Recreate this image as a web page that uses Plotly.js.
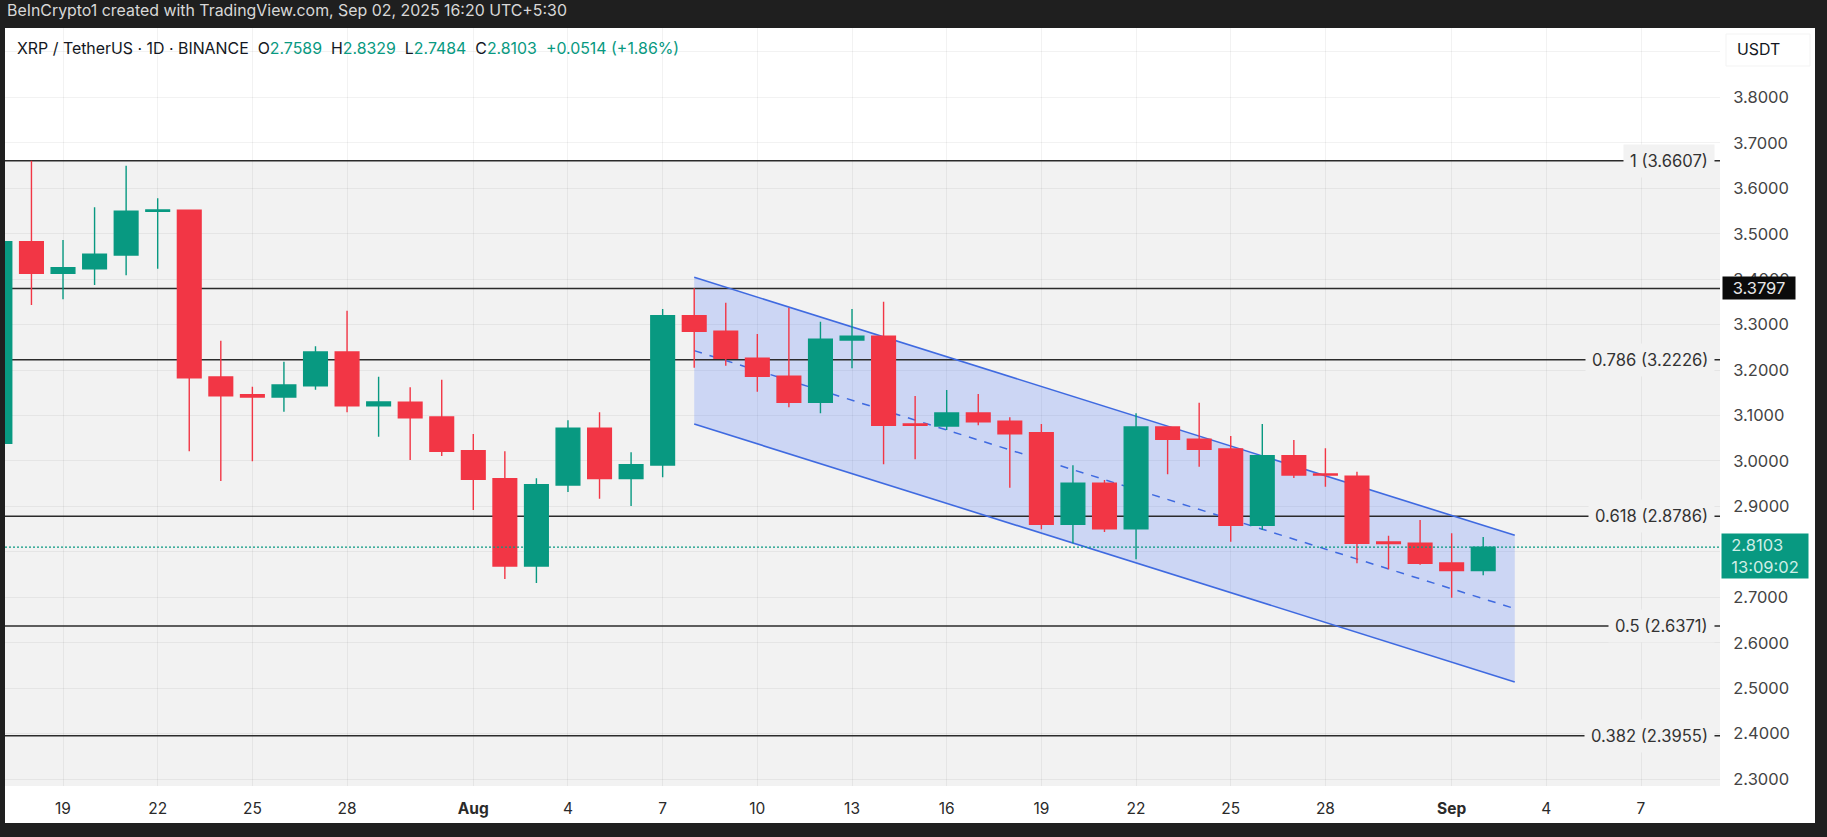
<!DOCTYPE html>
<html><head><meta charset="utf-8">
<script src="https://cdn.plot.ly/plotly-3.0.1.min.js"></script>
<style>html,body{margin:0;padding:0;background:#1f1f1f;overflow:hidden}</style>
</head><body><div id="chart" style="width:1827px;height:837px"></div>
<script>
const dates=['2025-07-17','2025-07-18','2025-07-19','2025-07-20','2025-07-21','2025-07-22','2025-07-23','2025-07-24','2025-07-25','2025-07-26','2025-07-27','2025-07-28','2025-07-29','2025-07-30','2025-07-31',
'2025-08-01','2025-08-02','2025-08-03','2025-08-04','2025-08-05','2025-08-06','2025-08-07','2025-08-08','2025-08-09','2025-08-10','2025-08-11','2025-08-12','2025-08-13','2025-08-14','2025-08-15','2025-08-16','2025-08-17','2025-08-18','2025-08-19','2025-08-20','2025-08-21','2025-08-22','2025-08-23','2025-08-24','2025-08-25','2025-08-26','2025-08-27','2025-08-28','2025-08-29','2025-08-30','2025-08-31','2025-09-01','2025-09-02'];
const opens=[3.0389,3.4825,3.4130,3.4231,3.4532,3.5494,3.5516,3.1848,3.1459,3.1408,3.1657,3.2398,3.1217,3.1292,3.0968,3.0227,2.9611,2.7690,2.9472,3.0719,2.9611,2.9912,3.3197,3.2854,3.2260,3.1864,3.1292,3.2662,3.2744,3.0814,3.0770,3.1056,3.0873,3.0623,2.8607,2.9509,2.8510,3.0748,3.0477,3.0264,2.8585,3.0117,2.9714,2.9663,2.8218,2.8189,2.7756,2.7589];
const highs=[3.50,3.6607,3.4862,3.5582,3.6497,3.5780,3.5535,3.2647,3.1635,3.2185,3.2524,3.3307,3.1855,3.1622,3.1789,3.0594,3.0213,2.9619,3.0895,3.1071,3.0191,3.3344,3.3800,3.3483,3.2794,3.3373,3.3065,3.3344,3.3505,3.1430,3.1562,3.1474,3.0961,3.0814,2.9905,2.9582,3.1049,3.0760,3.1283,3.0550,3.0814,3.0462,3.0279,2.9765,2.8356,2.8702,2.8409,2.8329];
const lows=[3.02,3.3432,3.3558,3.3872,3.4086,3.4231,3.0213,2.9560,2.9993,3.1085,3.1569,3.1071,3.0535,3.0022,3.0110,2.8922,2.7404,2.7316,2.9318,2.9171,2.9010,2.9641,3.2053,3.2097,3.1525,3.1182,3.1049,3.2040,2.9927,3.0037,3.0682,3.0785,2.9413,2.8497,2.8189,2.8438,2.7837,2.9707,2.9875,2.8224,2.8482,2.9626,2.9435,2.7749,2.7617,2.7718,2.6992,2.7484];
const closes=[3.4825,3.4130,3.4253,3.4548,3.5494,3.5522,3.1833,3.1437,3.1408,3.1672,3.2398,3.1217,3.1298,3.0953,3.0213,2.9597,2.7690,2.9479,3.0719,2.9611,2.9919,3.3197,3.2854,3.2260,3.1864,3.1292,3.2678,3.2744,3.0785,3.0785,3.1056,3.0865,3.0601,2.8607,2.9509,2.8510,3.0748,3.0477,3.0257,2.8585,3.0117,2.9692,2.9692,2.8189,2.8181,2.7749,2.7589,2.8103];

const fibLevels=[3.6607,3.2226,2.8786,2.6371,2.3955];
const fibLabels=['1 (3.6607)','0.786 (3.2226)','0.618 (2.8786)','0.5 (2.6371)','0.382 (2.3955)'];
const hLine=3.3797, lastPrice=2.8103;

const channelX=['2025-08-08','2025-09-03'];
const channelTop=[3.4042,2.8365];
const channelMid=[3.2428,2.6752];
const channelLow=[3.0814,2.5138];

const xTickVals=['2025-07-19','2025-07-22','2025-07-25','2025-07-28','2025-08-01','2025-08-04','2025-08-07','2025-08-10','2025-08-13','2025-08-16','2025-08-19','2025-08-22','2025-08-25','2025-08-28','2025-09-01','2025-09-04','2025-09-07'];
const xTickText=['19','22','25','28','<b>Aug</b>','4','7','10','13','16','19','22','25','28','<b>Sep</b>','4','7'];
const yTickVals=[2.3,2.4,2.5,2.6,2.7,2.8,2.9,3.0,3.1,3.2,3.3,3.4,3.5,3.6,3.7,3.8,3.9];
const yTickText=['2.3000','2.4000','2.5000','2.6000','2.7000','','2.9000','3.0000','3.1000','3.2000','3.3000','3.4000','3.5000','3.6000','3.7000','3.8000',''];

const xRange=['2025-07-17 03:53','2025-09-09 12:04'];
const yRange=[2.2849,3.9527];
const UP='#089981',DOWN='#f23645',BLUE='#3f6ae0',FONT='Inter, "Liberation Sans", sans-serif';

const traces=[];
traces.push({type:'scatter',mode:'none',x:[channelX[0],channelX[1],channelX[1],channelX[0]],y:[channelTop[0],channelTop[1],channelLow[1],channelLow[0]],fill:'toself',fillcolor:'rgba(41,98,255,0.19)',hoverinfo:'skip',showlegend:false});
fibLevels.concat([hLine]).forEach(v=>traces.push({type:'scatter',mode:'lines',x:xRange,y:[v,v],line:{color:'#2b2b2b',width:1.5},hoverinfo:'skip',showlegend:false}));
traces.push({type:'scatter',mode:'lines',x:channelX,y:channelTop,line:{color:BLUE,width:1.6},showlegend:false,hoverinfo:'skip'});
traces.push({type:'scatter',mode:'lines',x:channelX,y:channelLow,line:{color:BLUE,width:1.6},showlegend:false,hoverinfo:'skip'});
traces.push({type:'scatter',mode:'lines',x:channelX,y:channelMid,line:{color:BLUE,width:1.5,dash:'8px,8px'},showlegend:false,hoverinfo:'skip'});
traces.push({type:'candlestick',x:dates,open:opens,high:highs,low:lows,close:closes,xaxis:'x2',yaxis:'y2',whiskerwidth:0,
  increasing:{line:{color:UP,width:1.4},fillcolor:UP},decreasing:{line:{color:DOWN,width:1.4},fillcolor:DOWN},showlegend:false});
traces.push({type:'scatter',mode:'lines',x:xRange,y:[lastPrice,lastPrice],xaxis:'x2',yaxis:'y2',line:{color:UP,width:1.3,dash:'2px,2px'},showlegend:false,hoverinfo:'skip'});

const annotations=[];
annotations.push({xref:'paper',yref:'paper',x:-5/1715,y:1+(28-10)/758,xanchor:'left',yanchor:'middle',xshift:5,showarrow:false,align:'left',
  text:'BeInCrypto1 created with TradingView.com, Sep 02, 2025 16:20 UTC+5:30',font:{family:FONT,size:15.9,color:'#d8d8d8'}});
const g=s=>`<span style="color:${UP}">${s}</span>`;
annotations.push({xref:'paper',yref:'paper',x:0,y:1-(48.7-28)/758,xanchor:'left',yanchor:'middle',xshift:10,showarrow:false,align:'left',
  text:'XRP / TetherUS · 1D · BINANCE\u00a0\u00a0O'+g('2.7589')+'\u00a0\u00a0H'+g('2.8329')+'\u00a0\u00a0L'+g('2.7484')+'\u00a0\u00a0C'+g('2.8103')+'\u00a0\u00a0'+g('+0.0514 (+1.86%)'),
  font:{family:FONT,size:15.9,color:'#131722'}});
fibLevels.forEach((v,i)=>annotations.push({xref:'paper',yref:'y',x:1,y:v,xanchor:'right',yanchor:'middle',xshift:-5,showarrow:false,text:fibLabels[i],
  font:{family:FONT,size:16.6,color:'#333'},bgcolor:'#f2f2f2',borderpad:6}));
annotations.push({xref:'paper',yref:'y',x:1,y:hLine,xanchor:'left',yanchor:'middle',xshift:2,showarrow:false,text:'3.3797',width:70,height:20,
  bgcolor:'#0b0b0b',font:{family:FONT,size:16.5,color:'#e6e6e6'}});
annotations.push({xref:'paper',yref:'y',x:1,y:lastPrice,xanchor:'left',yanchor:'middle',yshift:-9,xshift:1,showarrow:false,align:'left',text:'\u00a0\u00a02.8103<br>\u00a0\u00a013:09:02',width:86,height:44,borderpad:0,
  bgcolor:UP,font:{family:FONT,size:16.5,color:'#cfeee7'}});
annotations.push({xref:'paper',yref:'paper',x:1,y:1-(50-28)/758,xanchor:'left',yanchor:'middle',xshift:15,showarrow:false,text:'USDT',
  font:{family:FONT,size:15.9,color:'#131722'}});

Plotly.newPlot('chart',traces,{
  width:1827,height:837,margin:{l:5,r:107,t:28,b:51,pad:0},
  paper_bgcolor:'#1f1f1f',plot_bgcolor:'rgba(0,0,0,0)',boxgap:0.25,boxgroupgap:0,showlegend:false,
  shapes:[
    {type:'rect',xref:'paper',yref:'paper',x0:0,x1:95/1715+1,y0:-37/758,y1:1,fillcolor:'#ffffff',line:{width:0},layer:'below'},
    {type:'rect',xref:'paper',yref:'y',x0:0,x1:1,y0:yRange[0],y1:fibLevels[0],fillcolor:'#f2f2f2',line:{width:0},layer:'below'},
    {type:'rect',xref:'paper',yref:'paper',x0:1+6/1715,x1:1+90/1715,y0:1-38/758,y1:1-6/758,fillcolor:'rgba(0,0,0,0)',line:{width:1,color:'#f3f3f3'},layer:'below'}
  ],
  annotations:annotations,
  xaxis:{type:'date',range:xRange,tickmode:'array',tickvals:xTickVals,ticktext:xTickText,showgrid:true,gridcolor:'rgba(0,0,0,0.05)',gridwidth:1,
    ticks:'outside',ticklen:8,tickcolor:'rgba(0,0,0,0)',tickfont:{family:FONT,size:15.5,color:'#2a2a2a'},showline:false,zeroline:false,rangeslider:{visible:false},fixedrange:true},
  yaxis:{range:yRange,side:'right',tickmode:'array',tickvals:yTickVals,ticktext:yTickText,showgrid:true,gridcolor:'rgba(0,0,0,0.05)',gridwidth:1,
    ticks:'outside',ticklen:9,tickcolor:'rgba(0,0,0,0)',tickfont:{family:FONT,size:16.5,color:'#444'},showline:false,zeroline:false,fixedrange:true},
  xaxis2:{type:'date',range:xRange,overlaying:'x',visible:false,rangeslider:{visible:false},fixedrange:true},
  yaxis2:{range:yRange,overlaying:'y',side:'right',visible:false,fixedrange:true}
},{displayModeBar:false,staticPlot:true});
</script></body></html>
